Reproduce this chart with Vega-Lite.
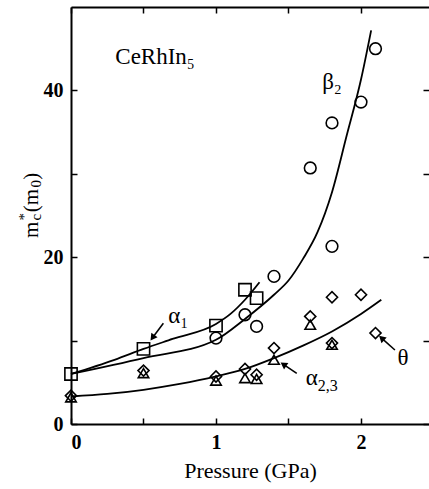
{
  "$schema": "https://vega.github.io/schema/vega-lite/v6.json",
  "autosize": "none",
  "width": 358,
  "height": 417,
  "padding": {"left": 71, "top": 7, "right": 0, "bottom": 65},
  "config": {
    "font": "Liberation Serif",
    "view": {"stroke": null},
    "axis": {"grid": false, "domainColor": "black", "tickColor": "black", "labelColor": "black", "titleColor": "black", "domainWidth": 2, "tickWidth": 1.5, "tickSize": -6, "labelFont": "Liberation Serif", "titleFont": "Liberation Serif"}
  },
  "datasets": {
    "curves": [
      {"curve": "a1", "P": 0.0, "m": 6.0},
      {"curve": "a1", "P": 0.3, "m": 7.7},
      {"curve": "a1", "P": 0.5, "m": 9.0},
      {"curve": "a1", "P": 0.7, "m": 10.2},
      {"curve": "a1", "P": 1.0, "m": 12.0},
      {"curve": "a1", "P": 1.1, "m": 13.2},
      {"curve": "a1", "P": 1.2, "m": 14.9},
      {"curve": "a1", "P": 1.3, "m": 17.0},
      {"curve": "b2", "P": 0.0, "m": 6.0},
      {"curve": "b2", "P": 0.5, "m": 7.9},
      {"curve": "b2", "P": 1.0, "m": 10.1},
      {"curve": "b2", "P": 1.2, "m": 12.6},
      {"curve": "b2", "P": 1.4, "m": 15.5},
      {"curve": "b2", "P": 1.5, "m": 17.2},
      {"curve": "b2", "P": 1.6, "m": 19.8},
      {"curve": "b2", "P": 1.7, "m": 23.0},
      {"curve": "b2", "P": 1.8, "m": 27.8},
      {"curve": "b2", "P": 1.9, "m": 34.5},
      {"curve": "b2", "P": 2.0, "m": 41.3},
      {"curve": "b2", "P": 2.07, "m": 47.2},
      {"curve": "a23", "P": 0.0, "m": 3.3},
      {"curve": "a23", "P": 0.25, "m": 3.6},
      {"curve": "a23", "P": 0.5, "m": 4.1},
      {"curve": "a23", "P": 0.75, "m": 4.8},
      {"curve": "a23", "P": 1.0, "m": 5.7},
      {"curve": "a23", "P": 1.2, "m": 6.6},
      {"curve": "a23", "P": 1.4, "m": 7.9},
      {"curve": "a23", "P": 1.6, "m": 9.4},
      {"curve": "a23", "P": 1.8, "m": 11.1},
      {"curve": "a23", "P": 2.0, "m": 13.2},
      {"curve": "a23", "P": 2.14, "m": 14.9}
    ],
    "points": [
      {"series": "α1", "P": 0.0, "m": 6.0},
      {"series": "α1", "P": 0.5, "m": 9.0},
      {"series": "α1", "P": 1.0, "m": 11.8},
      {"series": "α1", "P": 1.2, "m": 16.1},
      {"series": "α1", "P": 1.28, "m": 15.1},
      {"series": "β2", "P": 1.0, "m": 10.3},
      {"series": "β2", "P": 1.2, "m": 13.1},
      {"series": "β2", "P": 1.28, "m": 11.7},
      {"series": "β2", "P": 1.4, "m": 17.7},
      {"series": "β2", "P": 1.65, "m": 30.7},
      {"series": "β2", "P": 1.8, "m": 21.3},
      {"series": "β2", "P": 1.8, "m": 36.1},
      {"series": "β2", "P": 2.0, "m": 38.6},
      {"series": "β2", "P": 2.1, "m": 45.0},
      {"series": "θ", "P": 0.0, "m": 3.4},
      {"series": "θ", "P": 0.5, "m": 6.4},
      {"series": "θ", "P": 1.0, "m": 5.7},
      {"series": "θ", "P": 1.2, "m": 6.6},
      {"series": "θ", "P": 1.28, "m": 5.9},
      {"series": "θ", "P": 1.4, "m": 9.1},
      {"series": "θ", "P": 1.65, "m": 12.9},
      {"series": "θ", "P": 1.8, "m": 15.2},
      {"series": "θ", "P": 1.8, "m": 9.7},
      {"series": "θ", "P": 2.0, "m": 15.5},
      {"series": "θ", "P": 2.1, "m": 10.9},
      {"series": "α2,3", "P": 0.0, "m": 3.2},
      {"series": "α2,3", "P": 0.5, "m": 6.1},
      {"series": "α2,3", "P": 1.0, "m": 5.2},
      {"series": "α2,3", "P": 1.2, "m": 5.5},
      {"series": "α2,3", "P": 1.28, "m": 5.4},
      {"series": "α2,3", "P": 1.4, "m": 7.7},
      {"series": "α2,3", "P": 1.65, "m": 11.9},
      {"series": "α2,3", "P": 1.8, "m": 9.5}
    ],
    "labels": [
      {"P": 0.58, "m": 44.0, "text": "CeRhIn₅"},
      {"P": 1.8, "m": 41.0, "text": "β₂"},
      {"P": 0.74, "m": 13.0, "text": "α₁"},
      {"P": 1.66, "m": 5.5, "text": "α"},
      {"P": 2.29, "m": 7.9, "text": "θ"}
    ],
    "sublabels": [
      {"P": 1.77, "m": 4.6, "text": "2,3"}
    ],
    "ytitle": [
      {"part": "main", "P": -0.2276, "m": 22.3, "text": "m"},
      {"part": "sup", "P": -0.2897, "m": 24.4, "text": "*"},
      {"part": "sub", "P": -0.2069, "m": 24.4, "text": "c"},
      {"part": "main", "P": -0.2276, "m": 25.4, "text": "(m"},
      {"part": "sub", "P": -0.2069, "m": 28.35, "text": "0"},
      {"part": "main", "P": -0.2276, "m": 29.3, "text": ")"}
    ],
    "arrows": [
      {"name": "a1", "P": 0.637, "m": 12.07, "P2": 0.562, "m2": 10.35},
      {"name": "a23", "P": 1.557, "m": 6.08, "P2": 1.465, "m2": 7.15},
      {"name": "th", "P": 2.234, "m": 8.87, "P2": 2.142, "m2": 10.3}
    ]
  },
  "resolve": {"axis": {"x": "independent", "y": "independent"}},
  "layer": [
    {
      "data": {"name": "curves"},
      "mark": {"type": "line", "interpolate": "monotone", "color": "black", "strokeWidth": 1.8},
      "encoding": {
        "x": {"field": "P", "type": "quantitative", "scale": {"domain": [0, 2.469], "nice": false},
          "axis": {"orient": "bottom", "values": [0, 0.5, 1, 1.5, 2], "labelExpr": "datum.value % 1 == 0 ? format(datum.value, 'd') : ''", "labelFontSize": 20, "labelFontWeight": "bold", "labelPadding": 14, "title": "Pressure (GPa)", "titleFontSize": 22, "titleFontWeight": "normal", "titleY": 53, "titleBaseline": "alphabetic"}},
        "y": {"field": "m", "type": "quantitative", "scale": {"domain": [0, 50], "nice": false},
          "axis": {"orient": "left", "values": [0, 10, 20, 30, 40], "labelExpr": "datum.value % 20 == 0 ? format(datum.value, 'd') : ''", "labelFontSize": 20, "labelFontWeight": "bold", "labelPadding": 14, "title": null}},
        "detail": {"field": "curve"}
      }
    },
    {
      "data": {"name": "points"},
      "mark": {"type": "point", "filled": false, "color": "black", "strokeWidth": 1.6, "opacity": 1},
      "encoding": {
        "x": {"field": "P", "type": "quantitative", "axis": {"orient": "top", "values": [0, 0.5, 1, 1.5, 2], "labels": false, "title": null}},
        "y": {"field": "m", "type": "quantitative", "axis": {"orient": "right", "values": [0, 10, 20, 30, 40], "labels": false, "domain": false, "title": null}},
        "shape": {"field": "series", "type": "nominal", "scale": {"domain": ["α1", "β2", "θ", "α2,3"], "range": ["square", "circle", "diamond", "triangle-up"]}, "legend": null},
        "size": {"field": "series", "type": "nominal", "scale": {"domain": ["α1", "β2", "θ", "α2,3"], "range": [150, 110, 110, 90]}, "legend": null}
      }
    },
    {
      "data": {"name": "labels"},
      "mark": {"type": "text", "color": "black", "font": "Liberation Serif", "fontSize": 23, "align": "center", "baseline": "middle"},
      "encoding": {
        "x": {"field": "P", "type": "quantitative", "axis": null},
        "y": {"field": "m", "type": "quantitative", "axis": null},
        "text": {"field": "text"}
      }
    },
    {
      "data": {"name": "sublabels"},
      "mark": {"type": "text", "color": "black", "font": "Liberation Serif", "fontSize": 16, "align": "center", "baseline": "middle"},
      "encoding": {
        "x": {"field": "P", "type": "quantitative", "axis": null},
        "y": {"field": "m", "type": "quantitative", "axis": null},
        "text": {"field": "text"}
      }
    },
    {
      "data": {"name": "ytitle"},
      "transform": [{"filter": "datum.part == 'main'"}],
      "mark": {"type": "text", "color": "black", "font": "Liberation Serif", "fontSize": 21, "angle": 270, "align": "left", "baseline": "alphabetic"},
      "encoding": {
        "x": {"field": "P", "type": "quantitative", "axis": null},
        "y": {"field": "m", "type": "quantitative", "axis": null},
        "text": {"field": "text"}
      }
    },
    {
      "data": {"name": "ytitle"},
      "transform": [{"filter": "datum.part != 'main'"}],
      "mark": {"type": "text", "color": "black", "font": "Liberation Serif", "fontSize": 15, "angle": 270, "align": "left", "baseline": "alphabetic"},
      "encoding": {
        "x": {"field": "P", "type": "quantitative", "axis": null},
        "y": {"field": "m", "type": "quantitative", "axis": null},
        "text": {"field": "text"}
      }
    },
    {
      "data": {"name": "arrows"},
      "mark": {"type": "rule", "color": "black", "strokeWidth": 1.6},
      "encoding": {
        "x": {"field": "P", "type": "quantitative", "axis": null},
        "y": {"field": "m", "type": "quantitative", "axis": null},
        "x2": {"field": "P2"},
        "y2": {"field": "m2"}
      }
    },
    {
      "data": {"name": "arrows"},
      "transform": [{"filter": "datum.name == 'a1'"}],
      "mark": {"type": "point", "shape": "triangle-up", "filled": true, "color": "black", "size": 60, "angle": 216, "opacity": 1},
      "encoding": {
        "x": {"field": "P2", "type": "quantitative", "axis": null},
        "y": {"field": "m2", "type": "quantitative", "axis": null}
      }
    },
    {
      "data": {"name": "arrows"},
      "transform": [{"filter": "datum.name == 'a23'"}],
      "mark": {"type": "point", "shape": "triangle-up", "filled": true, "color": "black", "size": 60, "angle": 304, "opacity": 1},
      "encoding": {
        "x": {"field": "P2", "type": "quantitative", "axis": null},
        "y": {"field": "m2", "type": "quantitative", "axis": null}
      }
    },
    {
      "data": {"name": "arrows"},
      "transform": [{"filter": "datum.name == 'th'"}],
      "mark": {"type": "point", "shape": "triangle-up", "filled": true, "color": "black", "size": 60, "angle": 312, "opacity": 1},
      "encoding": {
        "x": {"field": "P2", "type": "quantitative", "axis": null},
        "y": {"field": "m2", "type": "quantitative", "axis": null}
      }
    }
  ]
}
